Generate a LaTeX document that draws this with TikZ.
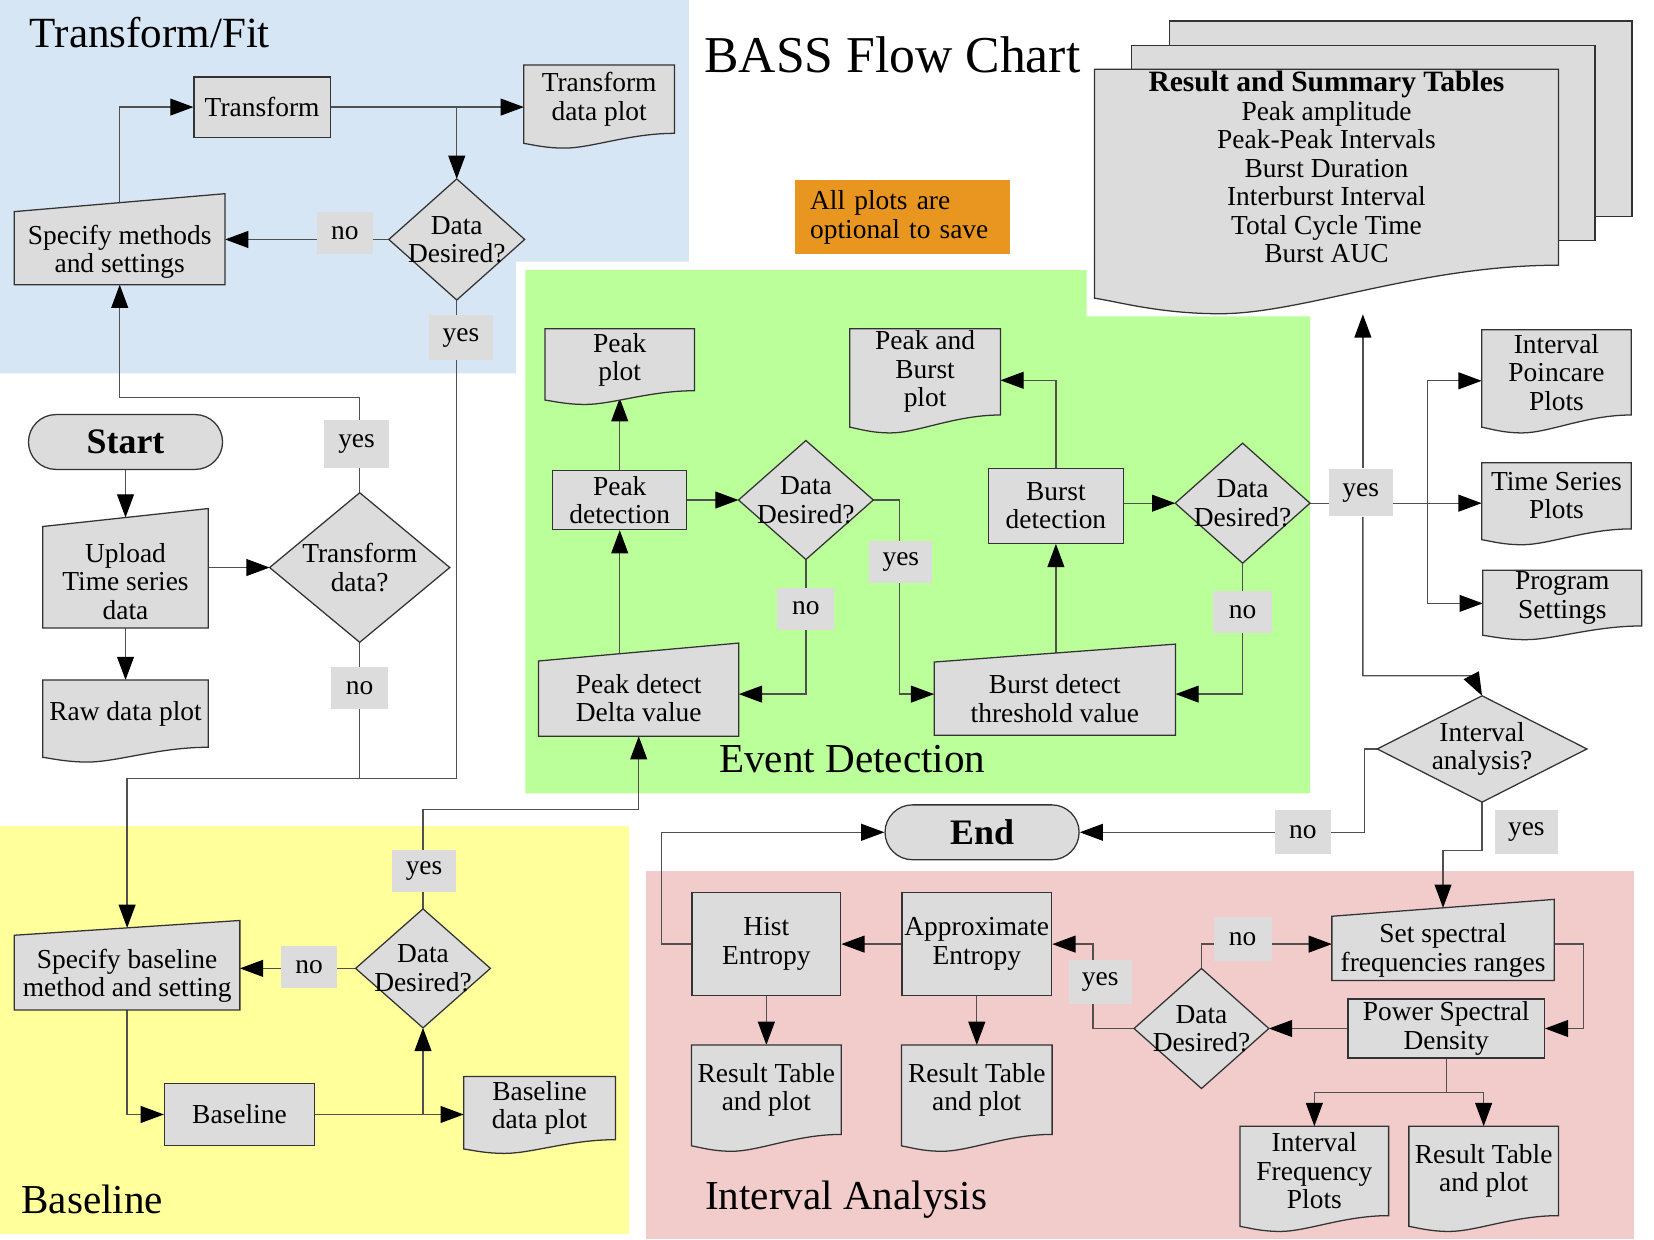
\documentclass[tikz,border=0pt]{standalone}
\usepackage{fontspec}
\setmainfont{Liberation Serif}
\usetikzlibrary{arrows.meta,calc}
\pgfdeclarelayer{back}
\pgfdeclarelayer{lines}
\pgfdeclarelayer{shp}
\pgfsetlayers{back,lines,shp,main}
\definecolor{bluebg}{HTML}{D6E6F4}
\definecolor{greenbg}{HTML}{BBFF9A}
\definecolor{yellowbg}{HTML}{FFFF9C}
\definecolor{pinkbg}{HTML}{F2CBCB}
\definecolor{boxfill}{HTML}{DCDCDC}
\definecolor{orangebox}{HTML}{E8961F}
\definecolor{linec}{HTML}{505050}
\definecolor{edgec}{HTML}{333333}
\newcommand\nf{\fontsize{13}{13.5}\selectfont}
\tikzset{
 nbase/.style={align=center,inner sep=0pt,font=\nf},
 sz/.style 2 args={minimum width=#1*0.5pt,minimum height=#2*0.5pt},
 proc/.style={nbase,rectangle,draw=edgec,fill=boxfill,line width=0.6pt},
 term/.style={nbase,rectangle,rounded corners=13pt,draw=edgec,fill=boxfill,line width=0.6pt,font=\fontsize{17}{18}\selectfont\bfseries},
 txt/.style={nbase,rectangle},
 lbl/.style={nbase,fill=boxfill},
 shapefill/.style={draw=edgec,fill=boxfill,line width=0.6pt},
 conn/.style={draw=linec,line width=0.6pt},
 arr/.style={conn,-{Triangle[length=11pt,width=8pt,color=black]}},
 region/.style={font=\fontsize{19.5}{21}\selectfont,inner sep=0pt},
}
\newcommand\docshape[2]{\begin{pgfonlayer}{shp}\path[shapefill] let \p1=(#1.south west), \p2=(#1.north east) in (\x1,\y2) -- (\x2,\y2) -- (\x2,\y1) .. controls ({\x2-0.3*(\x2-\x1)},\y1) and ({\x1+0.45*(\x2-\x1)},{\y1-#2}) .. ({\x1+0.27*(\x2-\x1)},{\y1-#2}) .. controls ({\x1+0.14*(\x2-\x1)},{\y1-#2}) and ({\x1+0.05*(\x2-\x1)},{\y1-0.75*#2}) .. (\x1,{\y1-0.68*#2}) -- cycle;\end{pgfonlayer}}
\newcommand\manshape[2]{\begin{pgfonlayer}{shp}\path[shapefill] ($(#1.north west)+(0pt,-#2)$) -- ($(#1.north east)+(0pt,#2)$) -- (#1.south east) -- (#1.south west) -- cycle;\end{pgfonlayer}}
\newcommand\diashape[1]{\begin{pgfonlayer}{shp}\path[shapefill] (#1.north) -- (#1.east) -- (#1.south) -- (#1.west) -- cycle;\end{pgfonlayer}}
\begin{document}
\begin{tikzpicture}[x=0.5pt,y=-0.5pt]
\useasboundingbox (0,0) rectangle (1568,1175);
\begin{pgfonlayer}{back}
\fill[white] (0,0) rectangle (1568,1175);
\fill[bluebg] (0,0) -- (653,0) -- (653,248) -- (489,248) -- (489,354) -- (0,354) -- cycle;
\fill[greenbg] (498,256) -- (1030,256) -- (1030,300) -- (1242,300) -- (1242,752) -- (498,752) -- cycle;
\fill[yellowbg] (0,783) rectangle (596,1170);
\fill[pinkbg] (612,826) rectangle (1549,1175);
\end{pgfonlayer}

% titles
\node[font=\fontsize{24.5}{26}\selectfont,inner sep=0pt] (title) at (846,52) {BASS Flow Chart};
\node[region,font=\fontsize{20.4}{22}\selectfont,anchor=west] (ttf) at (28,31) {Transform/Fit};
\node[region] (ted) at (808,720) {Event Detection};
\node[region,anchor=west] (tbl) at (20,1137) {Baseline};
\node[region,anchor=west] (tia) at (668,1137) {Interval Analysis};

% Transform/Fit
\node[proc,sz={129}{57}] (transform) at (248.5,101.5) {Transform};
\node[txt,sz={142}{64}] (tplot) at (568,94) {Transform\\data plot};
\docshape{tplot}{7pt}
\node[txt,sz={128}{114}] (dd1) at (433,227) {Data\\Desired?};
\diashape{dd1}
\node[txt,sz={199}{77}] (specm) at (113.5,231) {};
\manshape{specm}{4.25pt}
\node[txt] (specm-t) at (113.5,238.5) {Specify methods\\and settings};

% start area
\node[term,sz={184}{52}] (start) at (119,419) {Start};
\node[txt,sz={156}{104}] (upload) at (119,543) {};
\manshape{upload}{4.25pt}
\node[txt] (upload-t) at (119,551) {Upload\\Time series\\data};
\node[txt,sz={170}{141}] (tdq) at (341,538) {Transform\\data?};
\diashape{tdq}
\node[txt,sz={156}{63}] (rawplot) at (119,676.5) {Raw data plot};
\docshape{rawplot}{7pt}

% Baseline
\node[txt,sz={213}{77}] (specb) at (120.5,918.5) {};
\manshape{specb}{3.5pt}
\node[txt] (specb-t) at (120.5,925) {Specify baseline\\method and setting};
\node[txt,sz={127}{112}] (dd4) at (401,918) {Data\\Desired?};
\diashape{dd4}
\node[proc,sz={142}{59}] (baseline) at (227,1056.5) {Baseline};
\node[txt,sz={143}{59}] (bplot) at (511.5,1050.5) {Baseline\\data plot};
\docshape{bplot}{6.5pt}

% Event detection
\node[txt,sz={141}{58}] (pplot) at (587.5,341) {Peak\\plot};
\docshape{pplot}{6.5pt}
\node[proc,sz={127}{56}] (pdet) at (587.5,474) {Peak\\detection};
\node[txt,sz={127}{112}] (dd2) at (764,474) {Data\\Desired?};
\diashape{dd2}
\node[txt,sz={189}{79}] (pdelta) at (605.5,658) {};
\manshape{pdelta}{4.25pt}
\node[txt] (pdelta-t) at (605.5,662) {Peak detect\\Delta value};
\node[txt,sz={142}{81}] (pbplot) at (877,352.5) {Peak and\\Burst\\plot};
\docshape{pbplot}{8.5pt}
\node[proc,sz={128}{71}] (bdet) at (1001,479.5) {Burst\\detection};
\node[txt,sz={127}{113}] (dd3) at (1178,477) {Data\\Desired?};
\diashape{dd3}
\node[txt,sz={228}{77}] (bthr) at (1000,658) {};
\manshape{bthr}{4.25pt}
\node[txt] (bthr-t) at (1000,662.5) {Burst detect\\threshold value};

% result stack
\begin{pgfonlayer}{shp}
\path[shapefill] (1109,20) rectangle (1547,205);
\path[shapefill] (1073,43) rectangle (1512,228);
\end{pgfonlayer}
\node[txt,sz={439}{185}] (res) at (1257.5,158.5) {};
\docshape{res}{23pt}
\node[txt] (restext) at (1257.5,158.5) {{\bfseries\fontsize{14}{13.5}\selectfont Result and Summary Tables}\\Peak amplitude\\Peak-Peak Intervals\\Burst Duration\\Interburst Interval\\Total Cycle Time\\Burst AUC};

\node[nbase,fill=orangebox,sz={203}{70},align=left,text width=87.5pt] (note) at (855.5,206) {All plots are\\optional to save};

% right side
\node[txt,sz={141}{80}] (ipp) at (1475.5,353) {Interval\\Poincare\\Plots};
\docshape{ipp}{8.5pt}
\node[txt,sz={141}{62}] (tsp) at (1475.5,470) {Time Series\\Plots};
\docshape{tsp}{7.5pt}
\node[txt,sz={150}{52}] (progs) at (1481,567) {Program\\Settings};
\docshape{progs}{6.5pt}
\node[txt,sz={198}{100}] (ia) at (1405,710) {Interval\\analysis?};
\diashape{ia}
\node[term,sz={184}{52}] (endn) at (931,789) {End};

% Interval analysis
\node[proc,sz={141}{98}] (hist) at (726.5,895) {Hist\\Entropy};
\node[proc,sz={142}{98}] (approx) at (926,895) {Approximate\\Entropy};
\node[txt,sz={141}{84}] (rt1) at (726.5,1033) {Result Table\\and plot};
\docshape{rt1}{8pt}
\node[txt,sz={142}{84}] (rt2) at (926,1033) {Result Table\\and plot};
\docshape{rt2}{8pt}
\node[txt,sz={210}{68}] (sspec) at (1368,895) {};
\manshape{sspec}{4pt}
\node[txt] (sspec-t) at (1368,901) {Set spectral\\frequencies ranges};
\node[proc,sz={186}{56}] (psd) at (1371,975) {Power Spectral\\Density};
\node[txt,sz={127}{113}] (dd5) at (1139,975) {Data\\Desired?};
\diashape{dd5}
\node[txt,sz={140}{84}] (ifp) at (1246,1110) {Interval\\Frequency\\Plots};
\docshape{ifp}{7.5pt}
\node[txt,sz={141}{84}] (rt3) at (1406.5,1110) {Result Table\\and plot};
\docshape{rt3}{7.5pt}

% labels
\node[lbl,sz={53}{40}] (no1) at (327,221) {no};
\node[lbl,sz={60}{42}] (yes2) at (437,320) {yes};
\node[lbl,sz={61}{46}] (yes1) at (338,421) {yes};
\node[lbl,sz={54}{40}] (no2) at (341,652) {no};
\node[lbl,sz={53}{40}] (no4) at (293,917) {no};
\node[lbl,sz={61}{40}] (yes4) at (402,826) {yes};
\node[lbl,sz={54}{40}] (no5) at (764,577) {no};
\node[lbl,sz={60}{40}] (yes5) at (854,533) {yes};
\node[lbl,sz={56}{40}] (no6) at (1178,580) {no};
\node[lbl,sz={61}{45}] (yes6) at (1290,467) {yes};
\node[lbl,sz={53}{42}] (no7) at (1235,789) {no};
\node[lbl,sz={60}{42}] (yes7) at (1447,789) {yes};
\node[lbl,sz={60}{42}] (yes8) at (1043,931) {yes};
\node[lbl,sz={55}{42}] (no8) at (1178,890) {no};

% connectors
\begin{pgfonlayer}{lines}
\draw[arr] (specm.north) |- (transform.west);
\draw[arr] (transform.east) -- (transform.east -| tplot.west);
\draw[arr] (transform.east -| dd1.north) -- (dd1.north);
\draw[arr] (dd1.west) -- (dd1.west -| specm.east);
\coordinate (join) at (341,738);
\draw[arr] (dd1.south) |- (join) -| (specb.north);
\draw[conn] (tdq.south) -- (join);
\draw[arr] (start.south) -- (upload.north);
\draw[arr] (upload.east |- tdq.west) -- (tdq.west);
\draw[arr] (upload.south) -- (rawplot.north);
\draw[arr] (tdq.north) -- ++(0,-90) -| (specm.south);
\draw[arr] (specb.south) |- (baseline.west);
\draw[arr] (baseline.east) -- (baseline.east -| bplot.west);
\draw[arr] (baseline.east -| dd4.south) -- (dd4.south);
\draw[arr] (dd4.west) -- (dd4.west -| specb.east);
\draw[arr] (dd4.north) -- ++(0,-94) -| (pdelta.south);
\draw[arr] (pdelta.center -| pdet.south) -- (pdet.south);
\draw[arr] (pdet.north) -- ($(pplot.south)+(0,7)$);
\draw[arr] (pdet.east) -- (dd2.west);
\draw[arr] (dd2.south) |- (pdelta.east);
\draw[arr] (dd2.east) -- ++(25,0) |- (bthr.west);
\draw[arr] (bthr.center -| bdet.south) -- (bdet.south);
\draw[arr] (bdet.north) |- ($(pbplot.east)+(0,8)$);
\draw[arr] (bdet.east |- dd3.west) -- (dd3.west);
\draw[arr] (dd3.south) |- (bthr.east);
\draw[arr] (dd3.east) -- (dd3.east -| tsp.west);
\coordinate (br) at (1353,477);
\draw[arr] (br) |- ($(ipp.west)+(0,8)$);
\draw[arr] (br) |- ($(progs.west)+(0,5)$);
\coordinate (restip) at (1292,298);
\draw[arr] (restip |- yes6.north) -- (restip);
\draw[arr] (restip |- yes6.south) |- ($(ia.north)+(-10,-19)$) -- (ia.north);
\draw[arr] (ia.west) -- ++(-12,0) |- (endn.east);
\draw[arr] (ia.south) -- ++(0,46) -| (sspec.north);
\draw[arr] (hist.west) -- ++(-28,0) |- (endn.west);
\draw[arr] (approx.west) -- (hist.east);
\draw[arr] (hist.south) -- (rt1.north);
\draw[arr] (approx.south) -- (rt2.north);
\draw[arr] (sspec.east) -- ++(28,0) |- (psd.east);
\draw[arr] (psd.west) -- (dd5.east);
\draw[arr] (dd5.west) -- ++(-39,0) |- (approx.east);
\draw[arr] (dd5.north) |- (sspec.west);
\coordinate (pb) at ($(psd.south)+(0,32)$);
\draw[conn] (psd.south) -- (pb);
\draw[arr] (pb) -| (ifp.north);
\draw[arr] (pb) -| (rt3.north);
\end{pgfonlayer}
\end{tikzpicture}
\end{document}
